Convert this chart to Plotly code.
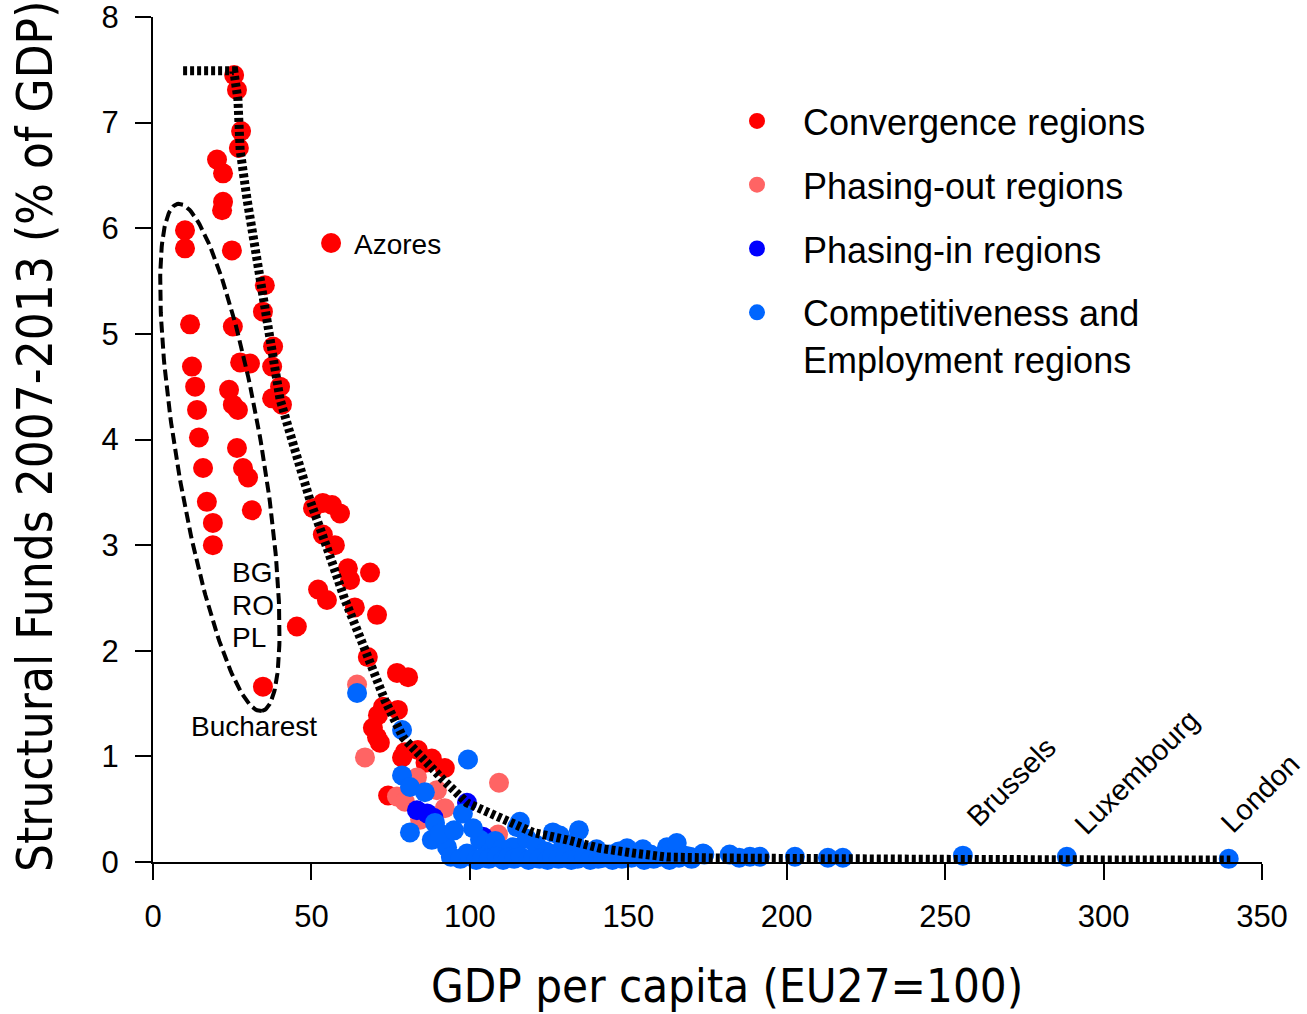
import numpy as np
import plotly.graph_objects as go

# ---------------- data ----------------
conv_x = [25.6, 26.5, 27.8, 27.1, 20.2, 22.1, 22.1, 21.8, 10.1, 10.1, 24.9, 56.2, 35.3, 34.7,
          11.7, 25.2, 37.9, 12.3, 27.5, 30.6, 37.6, 13.3, 24.0, 25.2, 26.8, 13.9, 40.1, 37.6,
          40.7, 14.5, 26.5, 15.8, 28.4, 30.0, 17.0, 31.2, 18.9, 18.9, 50.5, 53.6, 56.5, 59.0,
          53.6, 57.4, 61.5, 62.2, 68.5, 52.1, 54.9, 63.7, 70.7, 45.4, 67.8, 77.0, 80.5, 34.7,
          77.3, 71.0, 69.4, 70.7, 71.6, 79.5, 83.6, 88.0, 92.1, 78.6, 74.2, 72.6, 86.0]
conv_y = [7.45, 7.31, 6.92, 6.76, 6.65, 6.52, 6.25, 6.17, 5.98, 5.81, 5.79, 5.86, 5.46, 5.21,
          5.09, 5.07, 4.88, 4.69, 4.73, 4.72, 4.69, 4.50, 4.47, 4.33, 4.28, 4.28, 4.50, 4.39,
          4.33, 4.02, 3.92, 3.73, 3.73, 3.64, 3.41, 3.33, 3.21, 3.00, 3.35, 3.40, 3.38, 3.30,
          3.10, 3.00, 2.78, 2.67, 2.74, 2.58, 2.48, 2.41, 2.34, 2.23, 1.94, 1.79, 1.75, 1.66,
          1.44, 1.39, 1.27, 1.18, 1.13, 1.04, 1.06, 0.98, 0.89, 0.99, 0.63, 1.47, 0.94]

phout_x = [64.4, 66.9, 83.3, 77.0, 92.1, 109.2, 108.9, 84.3, 89.6, 79.5]
phout_y = [1.68, 0.99, 0.80, 0.62, 0.51, 0.75, 0.26, 0.40, 0.68, 0.57]

phin_x = [83.3, 86.5, 99.1, 104.1, 88.5]
phin_y = [0.49, 0.46, 0.56, 0.24, 0.42]

comp_x = [64.4, 78.6, 99.4, 78.6, 81.1, 85.8, 81.1, 89.0, 88.0, 97.8, 92.8, 99.1, 103.2,
          106.3, 114.9, 113.6, 90.6, 115.8, 126.2, 128.4, 134.4, 149.6, 154.6, 162.2, 165.3,
          173.6, 95.0, 101.0, 108.0, 110.0, 118.0, 121.0, 124.0, 129.0, 133.0, 137.0, 140.0,
          144.0, 147.0, 152.0, 157.0, 160.0, 168.0,
          94.0, 97.0, 100.0, 102.0, 104.0, 106.0, 108.5, 110.5, 112.0, 114.0, 116.0, 118.5,
          120.0, 122.0, 124.5, 126.0, 128.0, 130.0, 132.0, 134.0, 136.0, 138.0, 140.5, 142.0,
          145.0, 148.0, 151.0, 155.0, 158.0, 163.0, 166.0, 170.0,
          169.5, 174.0, 182.0, 185.0, 188.4, 191.5, 202.6, 213.0, 217.7, 255.6, 288.4, 339.5]
comp_y = [1.60, 1.25, 0.97, 0.82, 0.71, 0.66, 0.28, 0.37, 0.21, 0.46, 0.14, 0.08, 0.21,
          0.09, 0.33, 0.14, 0.27, 0.38, 0.28, 0.25, 0.30, 0.13, 0.12, 0.14, 0.18,
          0.08, 0.30, 0.32, 0.20, 0.12, 0.22, 0.16, 0.10, 0.12, 0.18, 0.09, 0.12,
          0.07, 0.10, 0.06, 0.07, 0.05, 0.06,
          0.05, 0.03, 0.06, 0.02, 0.04, 0.03, 0.05, 0.02, 0.04, 0.03, 0.05, 0.02,
          0.04, 0.03, 0.02, 0.05, 0.03, 0.04, 0.02, 0.03, 0.05, 0.02, 0.03, 0.04,
          0.02, 0.03, 0.04, 0.02, 0.03, 0.02, 0.04, 0.03,
          0.05, 0.07, 0.07, 0.04, 0.05, 0.05, 0.05, 0.04, 0.04, 0.06, 0.05, 0.03]

# fitted (dotted) curve
fit_x = [9.5, 25.5, 26.8, 27.5, 29.7, 32.2, 34.4, 36.9, 40.1, 44.8, 49.5, 55.2, 60.6, 66.9,
         73.2, 78.9, 85.2, 91.5, 99.1, 106.3, 113.6, 119.9, 130.6, 141.1, 151.5, 162.2,
         176.7, 200, 250, 300, 340]
fit_y = [7.49, 7.49, 7.22, 6.74, 6.27, 5.80, 5.32, 4.85, 4.38, 3.90, 3.43, 2.95, 2.48, 2.01,
         1.53, 1.18, 0.97, 0.78, 0.56, 0.46, 0.37, 0.28, 0.21, 0.13, 0.085, 0.047,
         0.038, 0.03, 0.025, 0.02, 0.02]

x_ticks = [0, 50, 100, 150, 200, 250, 300, 350]
y_ticks = [0, 1, 2, 3, 4, 5, 6, 7, 8]

# ---------------- layout geometry ----------------
W, H = 1307, 1014
PL, PR, PT, PB = 153, 1262, 17, 862      # plot area on the page
ML, MT = PL, PT
PW, PH = PR - PL, PB - PT
MR, MB = W - ML - PW, H - MT - PH
XR, YR = [0, 350], [0, 8]
sx = PW / (XR[1] - XR[0])
sy = PH / (YR[1] - YR[0])


def px2paper_x(px):
    return (px - PL) / PW


def px2paper_y(py):
    return (PB - py) / PH


# ellipse around BG / RO / PL regions (centre in data units, axes in pixels)
ell_cx, ell_cy, ell_a, ell_b, ell_phi = 21.1, 3.83, 257, 43, np.deg2rad(9.4)
t = np.linspace(0, 2 * np.pi, 240)
dxp = ell_a * np.cos(t) * np.sin(ell_phi) + ell_b * np.sin(t) * np.cos(ell_phi)
dyp = ell_a * np.cos(t) * np.cos(ell_phi) - ell_b * np.sin(t) * np.sin(ell_phi)
ell_x = ell_cx + dxp / sx
ell_y = ell_cy - dyp / sy

fig = go.Figure()
series = [
    ("Convergence regions", conv_x, conv_y, "#FF0000"),
    ("Phasing-out regions", phout_x, phout_y, "#FF6464"),
    ("Phasing-in regions", phin_x, phin_y, "#0000FF"),
    ("Competitiveness and<br>Employment regions", comp_x, comp_y, "#0066FF"),
]
for i, (name, xs, ys, col) in enumerate(series):
    fig.add_trace(go.Scatter(x=xs, y=ys, mode="markers", name=name, legendgroup=f"g{i}",
                             marker=dict(color=col, size=20, line=dict(width=0)),
                             cliponaxis=False))

fig.add_trace(go.Scatter(x=fit_x, y=fit_y, mode="lines", showlegend=False,
                         line=dict(color="black", width=9, dash="4px,3px"), cliponaxis=False))
fig.add_trace(go.Scatter(x=ell_x, y=ell_y, mode="lines", showlegend=False,
                         line=dict(color="black", width=4, dash="11px,5px"), cliponaxis=False))

ann_font = dict(family="Liberation Sans, Arial, sans-serif", size=28, color="black")
rot_font = dict(family="Liberation Sans, Arial, sans-serif", size=29, color="black")
annotations = [
    dict(x=62.8, y=5.85, text="Azores", xanchor="left", yanchor="middle", font=ann_font),
    dict(x=24.3, y=2.74, text="BG", xanchor="left", yanchor="middle", font=ann_font),
    dict(x=24.3, y=2.43, text="RO", xanchor="left", yanchor="middle", font=ann_font),
    dict(x=24.3, y=2.13, text="PL", xanchor="left", yanchor="middle", font=ann_font),
    dict(x=31.9, y=1.28, text="Bucharest", xanchor="center", yanchor="middle", font=ann_font),
    dict(x=254.0, y=0.25, text="Brussels", xanchor="left", yanchor="bottom", textangle=-45,
         font=rot_font),
    dict(x=288.1, y=0.18, text="Luxembourg", xanchor="left", yanchor="bottom", textangle=-45,
         font=rot_font),
    dict(x=334.2, y=0.19, text="London", xanchor="left", yanchor="bottom", textangle=-45,
         font=rot_font),
]
for a in annotations:
    a.update(xref="x", yref="y", showarrow=False)

title_font = dict(family="DejaVu Sans Condensed, DejaVu Sans, sans-serif", size=47, color="black")
annotations.append(dict(xref="paper", yref="paper", x=px2paper_x(727), y=px2paper_y(986),
                        text="GDP per capita (EU27=100)", showarrow=False, font=title_font,
                        xanchor="center", yanchor="middle"))
annotations.append(dict(xref="paper", yref="paper", x=px2paper_x(35), y=px2paper_y(437),
                        text="Structural Funds 2007-2013 (% of GDP)", showarrow=False,
                        font=dict(title_font, size=49), textangle=-90,
                        xanchor="center", yanchor="middle"))

tick_font = dict(family="Liberation Sans, Arial, sans-serif", size=31, color="black")
axis_common = dict(showgrid=False, zeroline=False, showline=True, linecolor="black", linewidth=2,
                   ticks="outside", ticklen=16, tickwidth=2, tickcolor="black", tickfont=tick_font,
                   ticklabelstandoff=10, ticklabeloverflow="allow", fixedrange=True)

fig.update_layout(
    width=W, height=H,
    margin=dict(l=ML, r=MR, t=MT, b=MB, autoexpand=False),
    plot_bgcolor="white", paper_bgcolor="white",
    xaxis=dict(range=XR, tickvals=x_ticks, **axis_common),
    yaxis=dict(range=YR, tickvals=y_ticks, **axis_common),
    annotations=annotations,
    legend=dict(x=px2paper_x(711), y=px2paper_y(91), xanchor="left", yanchor="top",
                font=dict(family="Liberation Sans, Arial, sans-serif", size=36, color="black"),
                itemwidth=82, tracegroupgap=14, valign="top", bgcolor="rgba(0,0,0,0)"),
)

# remove the browser's default page margin so the figure fills the window exactly
fig.write_html("out.html", config={"displayModeBar": False},
               post_script="document.body.style.margin='0';document.body.style.overflow='hidden';")
